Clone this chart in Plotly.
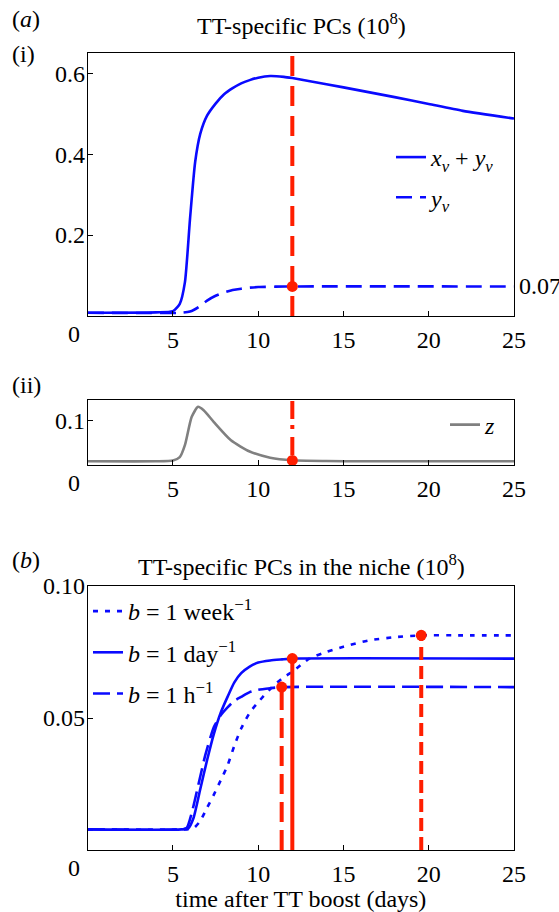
import plotly.graph_objects as go

W, H = 559, 912

# ---------------- data ----------------
x_ticks = [0, 5, 10, 15, 20, 25]
x_tick_labels = ["0", "5", "10", "15", "20", "25"]

# panel (a)(i)
t_xy = [0, 4, 5.0, 5.4, 5.7, 6.0, 6.3, 6.6, 7.0, 7.5, 8.0, 8.5, 9.0, 9.5, 10.0,
        10.7, 11.5, 12, 14, 16, 18, 20, 22, 25]
xv_plus_yv = [0.008, 0.009, 0.012, 0.03, 0.083, 0.24, 0.38, 0.45, 0.495, 0.525,
              0.548, 0.563, 0.575, 0.583, 0.589, 0.593, 0.591, 0.588, 0.573,
              0.557, 0.541, 0.524, 0.507, 0.488]
t_yv = [0, 5.5, 6.0, 6.5, 7.0, 7.5, 8.0, 8.5, 9.0, 9.5, 10, 11, 12, 25]
yv = [0.008, 0.008, 0.011, 0.022, 0.038, 0.050, 0.058, 0.064, 0.0675, 0.070,
      0.0715, 0.0725, 0.073, 0.073]
a_ticks = [0.2, 0.4, 0.6]
a_tick_labels = ["0.2", "0.4", "0.6"]
a_mark_t = 12
a_mark_v = 0.073
a_mark_label = "0.07"

# panel (a)(ii)
t_z = [0, 4, 5.0, 5.4, 5.7, 6.1, 6.47, 6.8, 7.4, 8.4, 9.5, 10.7, 12, 14, 16, 25]
z = [0.05, 0.05, 0.051, 0.055, 0.0696, 0.104, 0.1162, 0.112, 0.0977, 0.0756,
     0.0619, 0.0544, 0.0512, 0.0503, 0.05, 0.05]
z_ticks = [0.1]
z_tick_labels = ["0.1"]
z_mark_v = 0.051

# panel (b)
t_day = [0, 5.5, 5.9, 6.2, 6.6, 7.0, 7.4, 7.8, 8.2, 8.6, 9.0, 9.5, 10, 10.7, 11.4, 12, 25]
b_day = [0.0078, 0.0078, 0.0082, 0.012, 0.023, 0.034, 0.044, 0.052, 0.058, 0.0635,
         0.067, 0.0695, 0.071, 0.0718, 0.0722, 0.0725, 0.0725]
t_hour = [0, 5.4, 5.8, 6.1, 6.5, 6.9, 7.4, 7.8, 8.2, 8.6, 9.0, 9.5, 10, 10.7, 11.375, 25]
b_hour = [0.0078, 0.0078, 0.0083, 0.014, 0.025, 0.036, 0.0466, 0.051, 0.054, 0.0565,
          0.058, 0.0598, 0.0607, 0.0613, 0.0617, 0.0617]
t_week = [0, 5.8, 6.2, 6.6, 7.0, 7.4, 7.8, 8.2, 8.6, 9.0, 9.5, 10, 10.7, 11.4, 12, 13,
          14, 15, 16.5, 18, 19.56, 22, 25]
b_week = [0.0078, 0.0078, 0.0082, 0.011, 0.016, 0.021, 0.0264, 0.032, 0.0395, 0.046,
          0.052, 0.056, 0.061, 0.065, 0.0675, 0.0725, 0.075, 0.077, 0.0794,
          0.0806, 0.0813, 0.0813, 0.0813]
b_mark_t = [11.375, 12, 19.56]
b_mark_v = [0.0617, 0.0725, 0.0813]
b_ticks = [0.05, 0.10]
b_tick_labels = ["0.05", "0.10"]

# ---------------- styling ----------------
FONT = "Liberation Serif"
FS = 24
BLUE = "#0a0aff"
RED = "#ff1e00"
GRAY = "#808080"
LW = 2.6
SM = 0.6


def px_x(p):
    return p / W


def px_y(p):
    return 1 - p / H


fig = go.Figure()

# (i)
fig.add_trace(go.Scatter(x=t_xy, y=xv_plus_yv, mode="lines", xaxis="x", yaxis="y",
                         line=dict(color=BLUE, width=LW, shape="spline", smoothing=SM),
                         name="<i>x</i><sub><i>v</i></sub> + <i>y</i><sub><i>v</i></sub>",
                         legend="legend", legendgroup="a1"))
fig.add_trace(go.Scatter(x=t_yv, y=yv, mode="lines", xaxis="x", yaxis="y",
                         line=dict(color=BLUE, width=LW, dash="16px,8px", shape="spline", smoothing=SM),
                         name="<i>y</i><sub><i>v</i></sub>", legend="legend", legendgroup="a2"))
fig.add_trace(go.Scatter(x=[a_mark_t], y=[a_mark_v], mode="markers", xaxis="x", yaxis="y",
                         marker=dict(color=RED, size=11), showlegend=False))

# (ii)
fig.add_trace(go.Scatter(x=t_z, y=z, mode="lines", xaxis="x2", yaxis="y2",
                         line=dict(color=GRAY, width=LW, shape="spline", smoothing=SM),
                         name="<i>z</i>", legend="legend2"))
fig.add_trace(go.Scatter(x=[a_mark_t], y=[z_mark_v], mode="markers", xaxis="x2", yaxis="y2",
                         marker=dict(color=RED, size=11), showlegend=False, cliponaxis=False))

# (b)
fig.add_trace(go.Scatter(x=t_week, y=b_week, mode="lines", xaxis="x3", yaxis="y3",
                         line=dict(color=BLUE, width=LW, dash="5px,7px", shape="spline", smoothing=SM),
                         name="<i>b</i> = 1 week<sup>−1</sup>", legend="legend3", legendgroup="b1"))
fig.add_trace(go.Scatter(x=t_day, y=b_day, mode="lines", xaxis="x3", yaxis="y3",
                         line=dict(color=BLUE, width=LW, shape="spline", smoothing=SM),
                         name="<i>b</i> = 1 day<sup>−1</sup>", legend="legend3", legendgroup="b2"))
fig.add_trace(go.Scatter(x=t_hour, y=b_hour, mode="lines", xaxis="x3", yaxis="y3",
                         line=dict(color=BLUE, width=LW, dash="17px,7px", shape="spline", smoothing=SM),
                         name="<i>b</i> = 1 h<sup>−1</sup>", legend="legend3", legendgroup="b3"))
b_dash = ["20px,8px", "solid", "13px,6px"]
for tt, vv, dd in zip(b_mark_t, b_mark_v, b_dash):
    fig.add_trace(go.Scatter(x=[tt, tt], y=[0, vv], mode="lines", xaxis="x3", yaxis="y3",
                             line=dict(color=RED, width=4, dash=dd), showlegend=False))
fig.add_trace(go.Scatter(x=b_mark_t, y=b_mark_v, mode="markers", xaxis="x3", yaxis="y3",
                         marker=dict(color=RED, size=11), showlegend=False))

# vertical red lines in (a)
fig.add_shape(type="line", xref="x", yref="y domain", x0=a_mark_t, x1=a_mark_t, y0=0, y1=1,
              line=dict(color=RED, width=4, dash="20px,10px"), layer="below")
fig.add_shape(type="line", xref="x2", yref="y2 domain", x0=a_mark_t, x1=a_mark_t, y0=0, y1=1,
              line=dict(color=RED, width=4, dash="4px,6px,18px,8px"), layer="below")

# tick + label for 0.07 on the right of (i)
fig.add_shape(type="line", xref="x", yref="y", xsizemode="pixel", xanchor=x_ticks[-1],
              x0=0, x1=5, y0=a_mark_v, y1=a_mark_v, line=dict(color="black", width=1))
fig.add_annotation(x=x_ticks[-1], y=a_mark_v, xref="x", yref="y", text=a_mark_label,
                   showarrow=False, xanchor="left", yanchor="middle", xshift=3,
                   font=dict(family=FONT, size=FS, color="black"))

xdom = [px_x(87.7), px_x(514)]
dom_i = [px_y(316), px_y(53)]
dom_ii = [px_y(465), px_y(400)]
dom_b = [px_y(850), px_y(586)]

xax = dict(range=[0, 25], tickvals=x_ticks, ticktext=[""] + x_tick_labels[1:],
           ticks="inside", ticklen=5, tickcolor="black", showline=True, linecolor="black",
           linewidth=1, mirror=True, showgrid=False, zeroline=False, automargin=False,
           ticklabelstandoff=2,
           tickfont=dict(family=FONT, size=FS, color="black"), domain=xdom)
yax = dict(ticks="inside", ticklen=5, tickcolor="black", showline=True, linecolor="black",
           linewidth=1, mirror=True, showgrid=False, zeroline=False, automargin=False,
           ticklabelstandoff=-3,
           tickfont=dict(family=FONT, size=FS, color="black"))

fig.update_layout(
    width=W, height=H, margin=dict(l=0, r=0, t=0, b=0, autoexpand=False),
    paper_bgcolor="white", plot_bgcolor="white",
    font=dict(family=FONT, size=FS, color="black"),
    xaxis=dict(xax, anchor="y"),
    yaxis=dict(yax, range=[0, 0.65], tickvals=a_ticks, ticktext=a_tick_labels,
               domain=dom_i, anchor="x"),
    xaxis2=dict(xax, anchor="y2"),
    yaxis2=dict(yax, range=[0.0455, 0.1245], tickvals=z_ticks, ticktext=z_tick_labels,
                domain=dom_ii, anchor="x2"),
    xaxis3=dict(xax, anchor="y3",
                title=dict(text="time after TT boost (days)", standoff=9,
                           font=dict(family=FONT, size=FS, color="black"))),
    yaxis3=dict(yax, range=[0, 0.1], tickvals=b_ticks, ticktext=b_tick_labels,
                domain=dom_b, anchor="x3"),
    legend=dict(x=px_x(391), y=px_y(135), xanchor="left", yanchor="top",
                bgcolor="rgba(0,0,0,0)", tracegroupgap=6,
                font=dict(family=FONT, size=FS, color="black")),
    legend2=dict(x=px_x(445), y=px_y(425), xanchor="left", yanchor="middle",
                 bgcolor="rgba(0,0,0,0)",
                 font=dict(family=FONT, size=FS, color="black")),
    legend3=dict(x=px_x(88), y=px_y(589), xanchor="left", yanchor="top",
                 bgcolor="rgba(0,0,0,0)", tracegroupgap=7,
                 font=dict(family=FONT, size=FS, color="black")),
    showlegend=True,
)

# "0" tick labels, shifted left of the axis corner as in the original
for xa, ya in [("x", "y"), ("x2", "y2"), ("x3", "y3")]:
    fig.add_annotation(x=x_ticks[0], y=0, xref=xa, yref=ya + " domain", text=x_tick_labels[0],
                       showarrow=False, xanchor="center", yanchor="top", xshift=-14, yshift=-3,
                       font=dict(family=FONT, size=FS, color="black"))

# panel labels and titles
labels = [
    ("(<i>a</i>)", 26, 19),
    ("(i)", 23, 54),
    ("(ii)", 26, 385),
    ("(<i>b</i>)", 26, 560),
]
for txt, xp, yp in labels:
    fig.add_annotation(x=px_x(xp), y=px_y(yp), xref="paper", yref="paper", text=txt,
                       showarrow=False, xanchor="center", yanchor="middle",
                       font=dict(family=FONT, size=FS, color="black"))
titles = [
    ("TT-specific PCs (10<sup>8</sup>)", 301, 24),
    ("TT-specific PCs in the niche (10<sup>8</sup>)", 301, 565),
]
for txt, xp, yp in titles:
    fig.add_annotation(x=px_x(xp), y=px_y(yp), xref="paper", yref="paper", text=txt,
                       showarrow=False, xanchor="center", yanchor="middle",
                       font=dict(family=FONT, size=FS, color="black"))

fig.write_html("out.html", config={"displayModeBar": False},
               post_script="document.body.style.margin='0';document.body.style.overflow='hidden';")
